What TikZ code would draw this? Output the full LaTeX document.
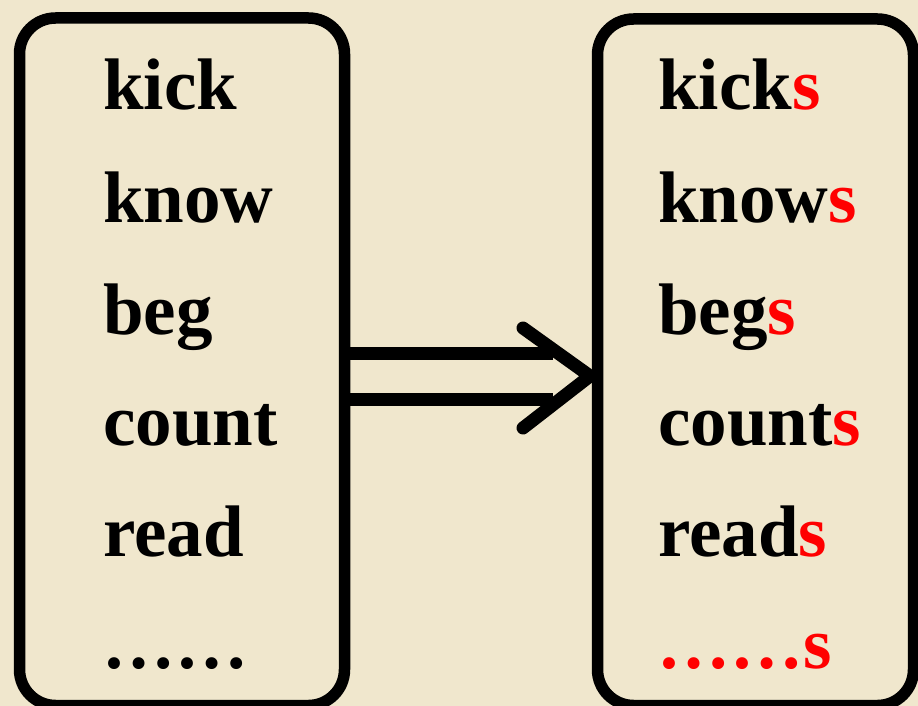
\documentclass[tikz,border=0pt]{standalone}
\usepackage{fontspec}
\setmainfont{Liberation Serif}
\definecolor{parch}{RGB}{240,231,205}
\definecolor{sred}{RGB}{255,0,0}
\begin{document}
\begin{tikzpicture}[x=1pt,y=-1pt,
  word/.style={anchor=base west,inner sep=0pt,font=\fontsize{73}{73}\selectfont\bfseries},
  listbox/.style={draw=black,line width=11.5pt,rounded corners=36pt},
  bar/.style={draw=black,line width=13pt,line cap=round,line join=round}]
\fill[parch] (0,0) rectangle (918,706);
\useasboundingbox (0,0) rectangle (918,706);
% boxes
\draw[listbox] (19.5,18) rectangle (344.5,705.5);
\draw[listbox] (597.5,19) rectangle (913.5,705.5);
% left words
\node[word] (l1) at (103,110) {kick};
\node[word] (l2) at (103,222) {know};
\node[word] (l3) at (103,334) {beg};
\node[word] (l4) at (103,445) {count};
\node[word] (l5) at (103,556) {read};
\node[word] (l6) at (102,668) {……};
% right words
\node[word] (r1) at (658,110) {kick\textcolor{sred}{s}};
\node[word] (r2) at (658,222) {know\textcolor{sred}{s}};
\node[word] (r3) at (658,334) {beg\textcolor{sred}{s}};
\node[word] (r4) at (658,445) {count\textcolor{sred}{s}};
\node[word] (r5) at (658,556) {read\textcolor{sred}{s}};
\node[word,text=sred] (r6) at (657,668) {……s};
% arrow
\coordinate (a1s) at (350,353);
\coordinate (a1e) at (553,353);
\coordinate (a2s) at (350,399);
\coordinate (a2e) at (553,399);
\coordinate (ht) at (523,328);
\coordinate (hp) at (590,376);
\coordinate (hb) at (523,428);
\draw[bar,line cap=butt] (a1s) -- (a1e);
\draw[bar,line cap=butt] (a2s) -- (a2e);
\draw[bar] (ht) -- (hp) -- (hb);
\end{tikzpicture}
\end{document}
